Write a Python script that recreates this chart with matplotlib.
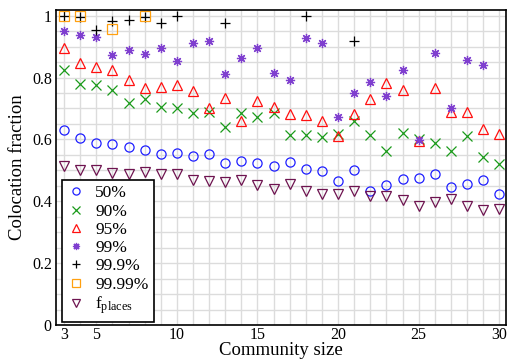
import numpy as np
import matplotlib
matplotlib.use("Agg")
import matplotlib.pyplot as plt
from matplotlib.ticker import MultipleLocator, FixedLocator

nan = np.nan
sizes = list(range(3, 31))

p50 = [0.629, 0.604, 0.588, 0.584, 0.574, 0.565, 0.553, 0.555, 0.545, 0.552,
       0.523, 0.531, 0.524, 0.513, 0.526, 0.504, 0.499, 0.465, 0.501, 0.433,
       0.454, 0.471, 0.476, 0.487, 0.447, 0.456, 0.469, 0.424]
p90 = [0.826, 0.780, 0.776, 0.761, 0.717, 0.731, 0.706, 0.702, 0.687, 0.690,
       0.639, 0.684, 0.672, 0.686, 0.615, 0.615, 0.607, 0.619, 0.658, 0.615,
       0.562, 0.621, 0.602, 0.589, 0.563, 0.611, 0.542, 0.522]
p95 = [0.895, 0.847, 0.833, 0.823, 0.793, 0.766, 0.769, 0.776, 0.756, 0.702,
       0.733, 0.659, 0.724, 0.706, 0.682, 0.678, 0.658, 0.611, 0.683, 0.732,
       0.783, 0.759, 0.594, 0.766, 0.688, 0.688, 0.635, 0.618]
p99 = [0.949, 0.938, 0.932, 0.874, 0.889, 0.876, 0.896, 0.855, 0.913, 0.917,
       0.812, 0.864, 0.896, 0.815, 0.793, 0.929, 0.911, 0.673, 0.751, 0.787,
       0.740, 0.824, 0.599, 0.878, 0.702, 0.858, 0.842, nan]
p999 = [1.0, 0.995, 0.955, 0.982, 0.986, 0.997, 0.975, 0.998, nan, nan,
        0.977, nan, nan, nan, nan, 0.998, nan, nan, 0.918, nan,
        nan, nan, nan, nan, nan, nan, nan, nan]
p9999 = [1.0, 1.0, nan, 0.956, nan, 1.0, nan, nan, nan, nan,
         nan, nan, nan, nan, nan, nan, nan, nan, nan, nan,
         nan, nan, nan, nan, nan, nan, nan, nan]
fplaces = [0.514, 0.500, 0.500, 0.493, 0.489, 0.495, 0.487, 0.489, 0.468, 0.466,
           0.463, 0.470, 0.453, 0.441, 0.455, 0.432, 0.423, 0.423, 0.433, 0.416,
           0.418, 0.403, 0.386, 0.397, 0.407, 0.385, 0.373, 0.374]

labels = ["50%", "90%", "95%", "99%", "99.9%", "99.99%", r"f$_{\mathrm{places}}$"]
xticks = [3, 5, 10, 15, 20, 25, 30]
yticks = [0, 0.2, 0.4, 0.6, 0.8, 1.0]
yticklabels = ["0", "0.2", "0.4", "0.6", "0.8", "1"]

plt.rcParams['font.family'] = ['Liberation Serif', 'DejaVu Serif']
plt.rcParams['mathtext.fontset'] = 'custom'
plt.rcParams['mathtext.rm'] = 'Liberation Serif'
plt.rcParams['mathtext.it'] = 'Liberation Serif:italic'

fig = plt.figure(figsize=(5.07, 3.62), dpi=100)
ax = fig.add_axes([56 / 507, 1 - 325 / 362, 450 / 507, 315.5 / 362])

ms = 6.6
mew = 0.9
styles = [
    dict(marker='o', mfc='none', mec='#1f1fff'),
    dict(marker='x', mec='#1a9a1a'),
    dict(marker='^', mfc='none', mec='#ff1010'),
    dict(marker=(8, 2, 0), mec='#7f3fcf'),
    dict(marker='+', mec='#000000'),
    dict(marker='s', mfc='none', mec='#ffa010'),
    dict(marker='v', mfc='none', mec='#6e1450'),
]
series = [p50, p90, p95, p99, p999, p9999, fplaces]
for ys, st, lab in zip(series, styles, labels):
    ax.plot(sizes, ys, linestyle='none', markersize=ms, markeredgewidth=mew,
            label=lab, **st)

ax.set_xlim(2.5, 30.42)
ax.set_ylim(0, 1.02)
ax.xaxis.set_major_locator(FixedLocator(xticks))
ax.xaxis.set_minor_locator(MultipleLocator(1))
ax.yaxis.set_major_locator(FixedLocator(yticks))
ax.set_yticklabels(yticklabels)
ax.yaxis.set_minor_locator(MultipleLocator(0.05))
ax.grid(which='both', color='#dcdcdc', linewidth=1.0)
ax.set_axisbelow(True)
ax.tick_params(which='both', length=0, labelsize=11.5)
ax.tick_params(axis='x', pad=1.5)
ax.tick_params(axis='y', pad=3)
for s in ax.spines.values():
    s.set_linewidth(1.2)

ax.set_xlabel("Community size", fontsize=13.5, labelpad=-1)
ax.set_ylabel("Colocation fraction", fontsize=13.5, labelpad=4)

leg = ax.legend(loc='lower left', bbox_to_anchor=(0.006, 0.0), fontsize=12.5,
                markerscale=0.78, handlelength=1.0, handletextpad=0.6,
                labelspacing=0.12, borderpad=0.3, borderaxespad=0.2,
                fancybox=False, framealpha=1, edgecolor='black')
leg.get_frame().set_linewidth(1.2)

fig.savefig("out.png", dpi=100)
